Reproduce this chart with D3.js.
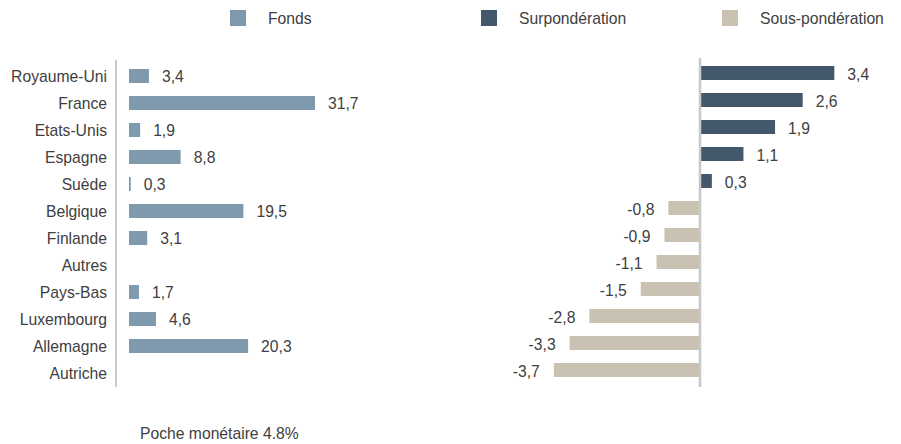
<!DOCTYPE html>
<html>
<head>
  <script src="https://d3js.org/d3.v7.min.js"></script>
  <style>
    body { margin: 0; background: #fff; }
    svg { font-family: "Liberation Sans", Arial, sans-serif; }
  </style>
</head>
<body>
  <svg width="901" height="444"></svg>

  <script>
    const countries = ['Royaume-Uni', 'France', 'Etats-Unis', 'Espagne', 'Suède', 'Belgique',
      'Finlande', 'Autres', 'Pays-Bas', 'Luxembourg', 'Allemagne', 'Autriche'];
    const fonds = [3.4, 31.7, 1.9, 8.8, 0.3, 19.5, 3.1, null, 1.7, 4.6, 20.3, null];
    const ecart = [3.4, 2.6, 1.9, 1.1, 0.3, -0.8, -0.9, -1.1, -1.5, -2.8, -3.3, -3.7];
    const legendLabels = ['Fonds', 'Surpondération', 'Sous-pondération'];
    const colors = ['#7f9aad', '#43586a', '#c9c2b2'];
    const footnote = 'Poche monétaire 4.8%';

    const svg = d3.select("svg");
    const fmt = v => String(v).replace('.', ',');
    const barH = 14;
    const fontSize = '15.7px';
    const textColor = '#404040';

    // legend
    const legendX = [230, 481, 722];
    legendLabels.forEach((lbl, i) => {
      svg.append("rect")
        .attr("x", legendX[i]).attr("y", 10)
        .attr("width", 16).attr("height", 16)
        .attr("fill", colors[i]);
      svg.append("text")
        .attr("x", legendX[i] + 38).attr("y", 24)
        .attr("font-size", fontSize).attr("fill", textColor)
        .text(lbl);
    });

    // left chart: fund weights
    const yL = d3.scalePoint().domain(countries).range([62.5, 386.5]).padding(0.5);
    const xL = d3.scaleLinear().domain([0, 40]).range([129, 363.7]);

    svg.append("line")
      .attr("x1", 116).attr("x2", 116).attr("y1", 60).attr("y2", 387)
      .attr("stroke", "#c8c8c8").attr("stroke-width", 2);

    svg.append("g").selectAll("text")
      .data(countries).join("text")
      .attr("x", 107).attr("y", d => yL(d) + 6)
      .attr("text-anchor", "end")
      .attr("font-size", fontSize).attr("fill", textColor)
      .text(d => d);

    const leftData = countries.map((c, i) => ({ c, v: fonds[i] })).filter(d => d.v != null);

    svg.append("g").selectAll("rect")
      .data(leftData).join("rect")
      .attr("x", xL(0))
      .attr("y", d => yL(d.c) - barH / 2)
      .attr("width", d => xL(d.v) - xL(0))
      .attr("height", barH)
      .attr("fill", colors[0]);

    svg.append("g").selectAll("text")
      .data(leftData).join("text")
      .attr("x", d => xL(d.v) + 13)
      .attr("y", d => yL(d.c) + 6)
      .attr("font-size", fontSize).attr("fill", textColor)
      .text(d => fmt(d.v));

    // right chart: over / under weights
    const yR = d3.scalePoint().domain(countries).range([59.5, 383.5]).padding(0.5);
    const xR = d3.scaleLinear().domain([-4, 4]).range([700 - 158, 700 + 158]);

    const rightData = countries.map((c, i) => ({ c, v: ecart[i] }));

    svg.append("g").selectAll("rect")
      .data(rightData).join("rect")
      .attr("x", d => xR(Math.min(0, d.v)))
      .attr("y", d => yR(d.c) - barH / 2)
      .attr("width", d => Math.abs(xR(d.v) - xR(0)))
      .attr("height", barH)
      .attr("fill", d => d.v >= 0 ? colors[1] : colors[2]);

    svg.append("line")
      .attr("x1", 700).attr("x2", 700).attr("y1", 58).attr("y2", 387)
      .attr("stroke", "#c8c8c8").attr("stroke-width", 2.5);

    svg.append("g").selectAll("text")
      .data(rightData).join("text")
      .attr("x", d => d.v >= 0 ? xR(d.v) + 13 : xR(d.v) - 14)
      .attr("y", d => yR(d.c) + 7)
      .attr("text-anchor", d => d.v >= 0 ? "start" : "end")
      .attr("font-size", fontSize).attr("fill", textColor)
      .text(d => fmt(d.v));

    svg.append("text")
      .attr("x", 140).attr("y", 439)
      .attr("font-size", fontSize).attr("fill", textColor)
      .text(footnote);
  </script>
</body>
</html>
